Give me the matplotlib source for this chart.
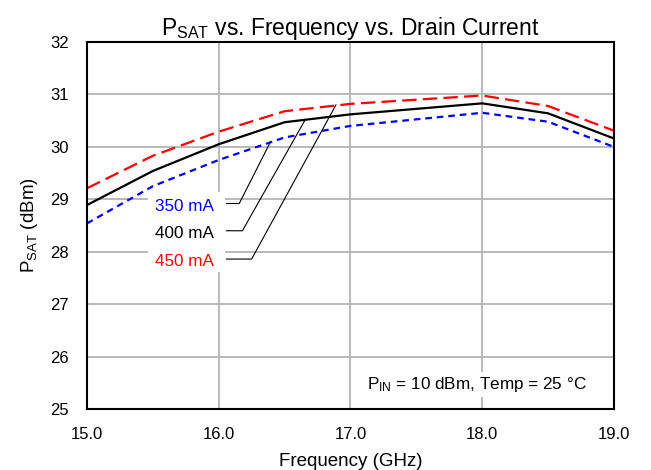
import numpy as np
import matplotlib
matplotlib.use("Agg")
import matplotlib.pyplot as plt

plt.rcParams['font.family'] = ['Liberation Sans', 'DejaVu Sans']
plt.rcParams['mathtext.fontset'] = 'custom'
plt.rcParams['mathtext.rm'] = 'Liberation Sans'
plt.rcParams['mathtext.it'] = 'Liberation Sans'

# data
freq = [15.0, 15.5, 16.0, 16.5, 17.0, 18.0, 18.5, 19.0]
psat_350 = [28.54, 29.25, 29.75, 30.18, 30.40, 30.65, 30.48, 30.00]
psat_400 = [28.89, 29.54, 30.05, 30.47, 30.62, 30.83, 30.64, 30.16]
psat_450 = [29.21, 29.83, 30.29, 30.68, 30.82, 30.98, 30.78, 30.31]
labels = ['350 mA', '400 mA', '450 mA']
colors = ['#0000ff', 'black', '#ff0000']

fig = plt.figure(figsize=(6.51, 4.70), dpi=100)
ax = fig.add_axes([0.1336, 0.1298, 0.8094, 0.7808])

ax.plot(freq, psat_350, color=colors[0], lw=1.6, dashes=(3.0, 2.2))
ax.plot(freq, psat_400, color=colors[1], lw=1.6)
ax.plot(freq, psat_450, color=colors[2], lw=1.6, dashes=(6.5, 2.8))

ax.set_xlim(15, 19)
ax.set_ylim(25, 32)
ax.set_xticks(np.arange(15, 19.5, 1.0))
ax.set_xticklabels(['15.0', '16.0', '17.0', '18.0', '19.0'])
ax.set_yticks(np.arange(25, 33, 1))
ax.tick_params(length=0, labelsize=12)
ax.tick_params(axis='x', pad=13)
ax.tick_params(axis='y', pad=13)
ax.grid(True, color='#b4b4b4', lw=1.3)
ax.set_axisbelow(True)
for s in ax.spines.values():
    s.set_linewidth(1.5)

ax.set_title(r'P$_{\mathrm{SAT}}$ vs. Frequency vs. Drain Current', fontsize=16.5, pad=5)
ax.set_xlabel('Frequency (GHz)', fontsize=13.5, labelpad=8)
ax.set_ylabel(r'P$_{\mathrm{SAT}}$ (dBm)', fontsize=13.5, labelpad=7)

# white box behind labels
ax.add_patch(plt.Rectangle((15.46, 27.62), 0.585, 1.52, facecolor='white',
                           edgecolor='none', zorder=2.5))

# leader lines and labels
label_y = [28.92, 28.40, 27.86]
elbow_x = [16.156, 16.18, 16.25]
end_pts = [(16.39, 30.08), (16.655, 30.51), (16.89, 30.80)]
for lab, col, ly, ex, (px, py) in zip(labels, colors, label_y, elbow_x, end_pts):
    ax.plot([16.06, ex, px], [ly, ly, py], color='black', lw=0.8, zorder=3)
    ax.text(15.96, ly - 0.05, lab, color=col, fontsize=12.3, ha='right', va='center', zorder=4)

ax.text(17.96, 25.47, r'P$_{\mathrm{IN}}$ = 10 dBm, Temp = 25 °C', fontsize=12.3,
        ha='center', va='center', zorder=4,
        bbox=dict(facecolor='white', edgecolor='none', pad=2))

fig.savefig('out.png', dpi=100)
